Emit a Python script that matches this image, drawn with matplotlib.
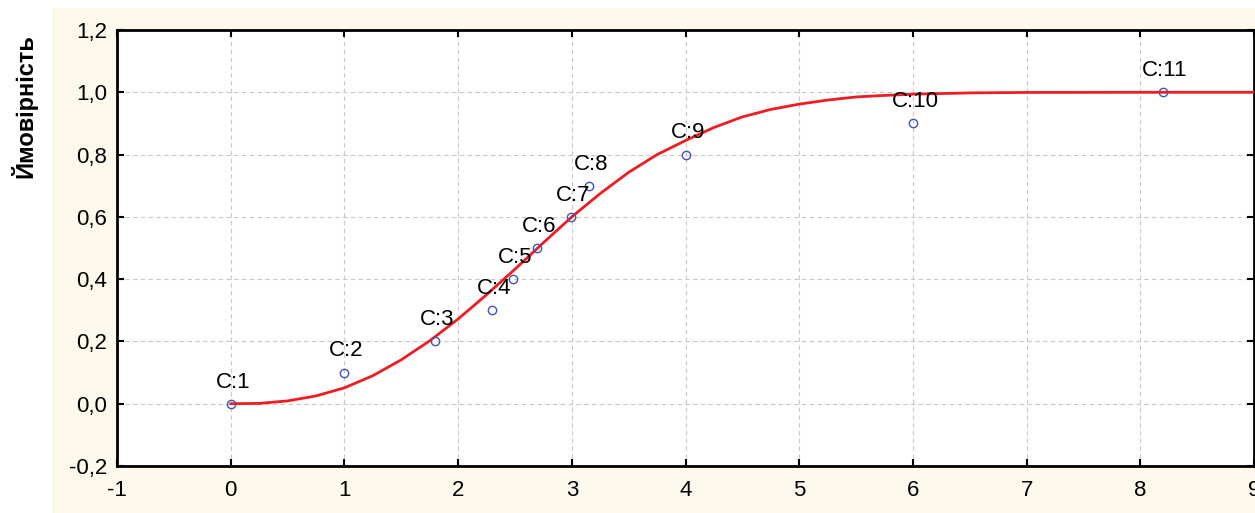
import matplotlib
matplotlib.use("Agg")
import matplotlib.pyplot as plt
from matplotlib.ticker import FuncFormatter, MultipleLocator
from matplotlib.patches import Rectangle

plt.rcParams['font.family'] = ['Liberation Sans', 'DejaVu Sans']

# observed points
pt_x = [0.0, 1.0, 1.8, 2.3, 2.48, 2.69, 2.99, 3.15, 4.0, 6.0, 8.2]
pt_y = [0.0, 0.1, 0.2, 0.3, 0.4, 0.5, 0.6, 0.7, 0.8, 0.9, 1.0]
pt_labels = ['C:1', 'C:2', 'C:3', 'C:4', 'C:5', 'C:6', 'C:7', 'C:8', 'C:9', 'C:10', 'C:11']

# fitted curve
curve_x = [0, 0.25, 0.5, 0.75, 1, 1.25, 1.5, 1.75, 2, 2.25, 2.5, 2.75, 3, 3.25,
           3.5, 3.75, 4, 4.25, 4.5, 4.75, 5, 5.25, 5.5, 5.75, 6, 6.5, 7, 8, 9]
curve_y = [0.0, 0.001, 0.009, 0.025, 0.051, 0.09, 0.141, 0.202, 0.272, 0.35, 0.432,
           0.517, 0.6, 0.675, 0.743, 0.8, 0.845, 0.887, 0.921, 0.945, 0.962, 0.975,
           0.985, 0.99, 0.994, 0.998, 0.9995, 1.0, 1.0]

fig = plt.figure(figsize=(12.55, 5.13), dpi=100, facecolor='white')
# cream panel behind the chart
fig.patches.append(Rectangle((52 / 1255, 0), 1.0, 1 - 8 / 513, transform=fig.transFigure,
                             facecolor='#fdf8ec', edgecolor='none', zorder=-10))

ax = fig.add_axes([117 / 1255, 1 - 466 / 513, (1254 - 117) / 1255, (466 - 30) / 513])
ax.set_facecolor('white')

ax.plot(curve_x, curve_y, color='#ee1c25', lw=2, zorder=3)
ax.plot(pt_x, pt_y, 'o', ms=6, mfc='none', mec='#4055b5', mew=1, zorder=4)
for x, y, lab in zip(pt_x, pt_y, pt_labels):
    ax.annotate(lab, (x, y), xytext=(1.5, 8), textcoords='offset points',
                ha='center', va='bottom', fontsize=16, zorder=5)

ax.set_xlim(-1, 9)
ax.set_ylim(-0.2, 1.2)
ax.xaxis.set_major_locator(MultipleLocator(1))
ax.yaxis.set_major_locator(MultipleLocator(0.2))
ax.yaxis.set_major_formatter(FuncFormatter(lambda v, p: f"{v:.1f}".replace('.', ',').replace('-0,0', '0,0')))
ax.xaxis.set_major_formatter(FuncFormatter(lambda v, p: f"{v:.0f}"))
ax.tick_params(direction='in', length=5, width=1.5, labelsize=16,
               top=True, right=True)
ax.tick_params(axis='x', pad=10)
ax.tick_params(axis='y', pad=7)
ax.grid(True, ls=(0, (4, 3)), color='#c8c8c8', lw=0.8)
for s in ax.spines.values():
    s.set_linewidth(2)

fig.text(24 / 1255, 1 - 106 / 513, 'Ймовірність', rotation=90, ha='center', va='center',
         fontsize=17, fontweight='bold')

fig.savefig('out.png', dpi=100)
